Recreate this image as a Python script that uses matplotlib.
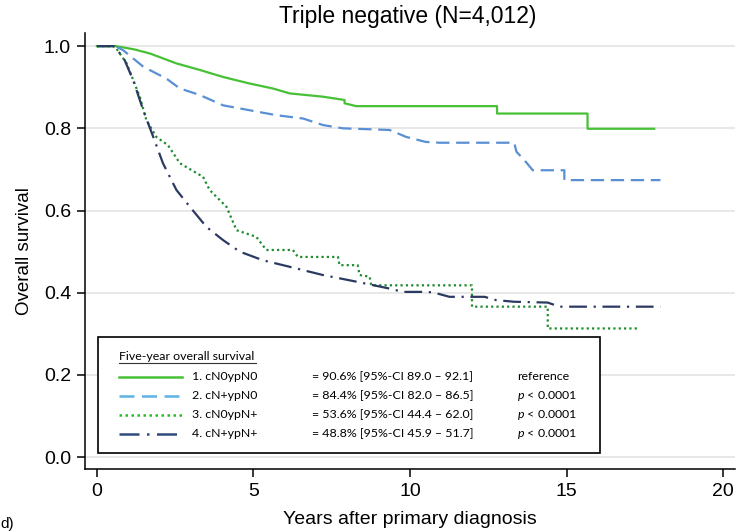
import numpy as np
import matplotlib
matplotlib.use("Agg")
import matplotlib.pyplot as plt
from matplotlib.lines import Line2D
from matplotlib.patches import Rectangle

# survival curves (repeated times = vertical steps)
t1 = [0, 0.6, 0.84, 1.2, 1.7, 2.54, 3.29, 4.03, 4.88, 5.62, 6.16, 7.22, 7.91, 7.91, 8.28, 12.78, 12.78, 15.67, 15.67, 17.8]
s1 = [1.0, 1.0, 0.997, 0.992, 0.982, 0.958, 0.942, 0.925, 0.909, 0.897, 0.885, 0.877, 0.869, 0.861, 0.854, 0.854, 0.836, 0.836, 0.799, 0.799]

t2 = [0, 0.6, 0.84, 1.48, 2.22, 2.65, 3.29, 4.03, 4.88, 5.73, 6.58, 7.22, 7.86, 9.35, 9.88, 10.5, 10.94, 13.33, 13.4, 13.65, 13.92, 14.93, 14.93, 18.0]
s2 = [1.0, 1.0, 0.99, 0.95, 0.921, 0.897, 0.881, 0.856, 0.844, 0.832, 0.824, 0.808, 0.8, 0.796, 0.779, 0.767, 0.765, 0.765, 0.743, 0.723, 0.698, 0.698, 0.674, 0.674]

t3 = [0, 0.57, 0.95, 1.37, 1.58, 1.9, 2.27, 2.65, 3.39, 3.6, 4.14, 4.46, 5.09, 5.41, 6.26, 6.42, 7.7, 7.75, 8.33, 8.39, 8.71, 8.76, 11.98, 11.98, 14.4, 14.4, 17.3]
s3 = [1.0, 1.0, 0.958, 0.877, 0.82, 0.779, 0.759, 0.715, 0.682, 0.65, 0.609, 0.552, 0.536, 0.504, 0.504, 0.487, 0.487, 0.467, 0.467, 0.443, 0.439, 0.418, 0.418, 0.366, 0.366, 0.313, 0.313]

t4 = [0, 0.52, 0.84, 1.16, 1.48, 1.8, 2.11, 2.54, 2.97, 3.5, 4.03, 4.56, 5.3, 6.16, 7.22, 8.28, 9.35, 9.77, 10.4, 10.73, 11.26, 12.38, 12.75, 13.33, 14.4, 14.77, 18.0]
s4 = [1.0, 1.0, 0.974, 0.917, 0.844, 0.779, 0.715, 0.65, 0.609, 0.56, 0.528, 0.5, 0.479, 0.463, 0.443, 0.427, 0.41, 0.402, 0.402, 0.401, 0.39, 0.39, 0.382, 0.378, 0.376, 0.366, 0.366]

groups = ["1. cN0ypN0", "2. cN+ypN0", "3. cN0ypN+", "4. cN+ypN+"]
five_year = ["= 90.6% [95%-CI 89.0 \u2013 92.1]", "= 84.4% [95%-CI 82.0 \u2013 86.5]",
             "= 53.6% [95%-CI 44.4 \u2013 62.0]", "= 48.8% [95%-CI 45.9 \u2013 51.7]"]
p_values = ["reference", "$p$ < 0.0001", "$p$ < 0.0001", "$p$ < 0.0001"]

x_ticks = [0, 5, 10, 15, 20]
y_ticks = [0.0, 0.2, 0.4, 0.6, 0.8, 1.0]

colors = ["#46c035", "#5a8fd4", "#1f8c2c", "#2c3a62"]
legend_colors = ["#46c035", "#5cb3e6", "#22c022", "#2f4a7a"]
styles = ["-", (0, (6, 3)), (0, (1, 1.4)), (0, (8, 3, 1, 3))]

plt.rcParams["font.family"] = ["Liberation Sans", "DejaVu Sans"]
plt.rcParams["mathtext.fontset"] = "custom"
plt.rcParams["mathtext.it"] = "Lato:italic"

W, H = 736, 531
fig = plt.figure(figsize=(W / 100, H / 100), dpi=100)
ax = fig.add_axes([85 / W, 1 - 469 / H, 650 / W, 436 / H])

def fx(px):
    return px / W

def fy(py):
    return 1 - py / H

for t, s, c, ls in zip([t1, t2, t3, t4], [s1, s2, s3, s4], colors, styles):
    ax.plot(t, s, color=c, linestyle=ls, lw=1.6, zorder=3)

ax.set_xlim(-0.38, 20.38)
ax.set_ylim(-0.029, 1.032)
ax.set_xticks(x_ticks)
ax.set_yticks(y_ticks)
ax.set_yticklabels(["%.1f" % v for v in y_ticks])
ax.grid(axis="y", color="#e4e4e4", lw=1.2, zorder=0)
ax.set_axisbelow(True)
for side in ["top", "right"]:
    ax.spines[side].set_visible(False)
for side in ["left", "bottom"]:
    ax.spines[side].set_linewidth(1.1)
ax.tick_params(direction="out", length=6, width=1.1, labelsize=14, pad=4)

ax.set_xlabel("Years after primary diagnosis", fontsize=14, labelpad=8)
ax.set_ylabel("Overall survival", fontsize=13.5, labelpad=8)
fig.text(fx(408), fy(16), "Triple negative (N=4,012)", fontsize=16.5, ha="center", va="center")
fig.text(fx(0.5), fy(524), "d)", fontsize=11, ha="left", va="center")

# custom legend box
fig.add_artist(Rectangle((fx(98), fy(453)), fx(600) - fx(98), fy(337) - fy(453),
                         transform=fig.transFigure, facecolor="white", edgecolor="black", lw=1.2, zorder=5))
lf = "Lato"
fs = 8.9
fig.text(fx(119), fy(356.5), "Five-year overall survival", fontsize=fs, family=lf, va="center", zorder=6)
fig.add_artist(Line2D([fx(119), fx(256)], [fy(362.5), fy(362.5)], transform=fig.transFigure,
                      color="#333333", lw=0.8, zorder=6))
row_y = [376.7, 395.7, 415, 433.7]
for i in range(4):
    y = fy(row_y[i])
    fig.add_artist(Line2D([fx(119), fx(182)], [y, y], transform=fig.transFigure, color=legend_colors[i],
                          linestyle=styles[i], lw=1.8, zorder=6))
    fig.text(fx(192), y, groups[i], fontsize=fs, family=lf, va="center", zorder=6)
    fig.text(fx(312), y, five_year[i], fontsize=fs, family=lf, va="center", zorder=6)
    fig.text(fx(517), y, p_values[i], fontsize=fs, family=lf, va="center", zorder=6)

fig.savefig("out.png", dpi=100)
